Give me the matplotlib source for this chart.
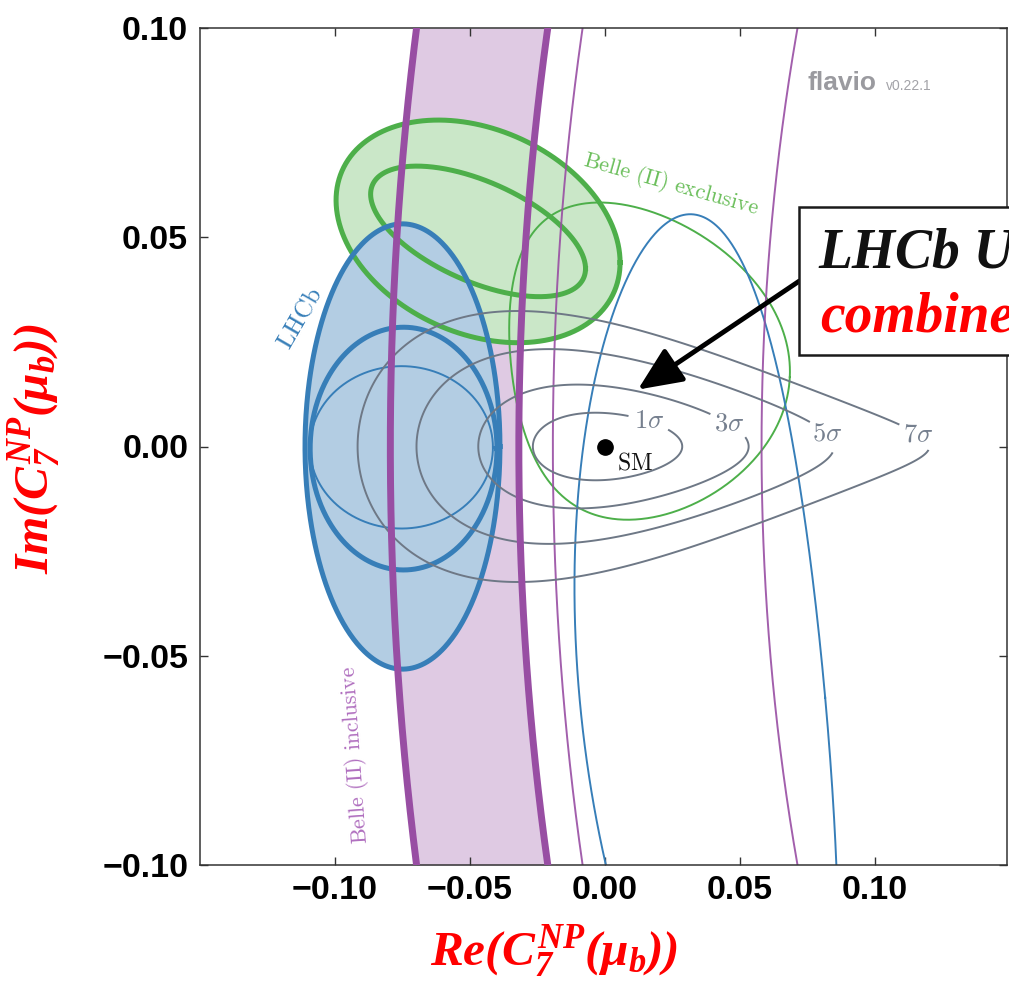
import numpy as np
import matplotlib
matplotlib.use("Agg")
import matplotlib.pyplot as plt
from matplotlib.patches import Rectangle

# ---------------- data ----------------
XLIM = (-0.15, 0.1491)
YLIM = (-0.10, 0.10)
xticks = [-0.10, -0.05, 0.00, 0.05, 0.10]
yticks = [-0.10, -0.05, 0.00, 0.05, 0.10]
xtick_labels = ['\u22120.10', '\u22120.05', '0.00', '0.05', '0.10']
ytick_labels = ['\u22120.10', '\u22120.05', '0.00', '0.05', '0.10']

# ellipse-like contours:
# (centre x, centre y, half-extent x, half-extent y, correlation, bend, bend centre y)
lhcb_now_outer = (-0.0750, 0.0000, 0.0361, 0.0532, 0.0, 0.0, 0.0)
lhcb_now_inner = (-0.0746, -0.0005, 0.0346, 0.0290, 0.0, 0.0, 0.0)
lhcb_future_small = (-0.0754, -0.0002, 0.0339, 0.0194, 0.0, 0.0, 0.0)
lhcb_future_big = (0.0305, -0.0600, 0.0455, 0.1155, 0.0, 0.87, 0.020)
belle_excl_outer = (-0.0470, 0.0514, 0.0526, 0.0266, -0.28, 0.0, 0.0)
belle_excl_inner = (-0.0470, 0.0514, 0.0398, 0.0156, -0.57, 0.0, 0.0)
belle_excl_future = (0.0167, 0.0204, 0.0519, 0.0379, -0.10, -9.4, 0.0204)

# inclusive branching ratio: rings around a common centre
ring_centre = (0.44, 0.0)
incl_now_radii = (0.5195, 0.4719)
incl_future_radii = (0.4593, 0.3820)

# combined future fit (teardrop-shaped likelihood)
comb_wedge_x = 0.20
comb_curv = 0.40
comb_sig_u = 0.0276
comb_sig_v = 0.0080
comb_levels = [1.0, 1.8, 2.75, 3.7]
comb_labels = [r'$1\sigma$', r'$3\sigma$', r'$5\sigma$', r'$7\sigma$']
comb_label_pos = [(0.0167, 0.0069), (0.0474, 0.0069), (0.0804, 0.0017), (0.1148, 0.0017)]

sm_point = (0.0, 0.0)

# ---------------- styling ----------------
W, H, DPI = 1009, 986, 100
BLUE = '#377eb8'
GREEN = '#4daf4a'
PURPLE = '#984ea3'
BLUE_FILL = '#b3cde3'
GREEN_FILL = '#cae7c8'
PURPLE_FILL = '#dfcae3'
GREY = '#6e7886'
plt.rcParams['mathtext.fontset'] = 'custom'
plt.rcParams['mathtext.rm'] = 'Liberation Serif:bold:italic'
plt.rcParams['mathtext.it'] = 'Liberation Serif:bold:italic'
plt.rcParams['mathtext.bf'] = 'Liberation Serif:bold:italic'


def px_x(p):
    return p / W


def px_y(p):
    return 1 - p / H


def ellipse_xy(params, n=600):
    cx, cy, sx, sy, rho, bend, bend_y = params
    t = np.linspace(0, 2 * np.pi, n)
    y = cy + sy * (rho * np.cos(t) + np.sqrt(1 - rho ** 2) * np.sin(t))
    x = cx + sx * np.cos(t) + bend * (y - bend_y) ** 2
    return x, y


def ring_x(radius, y):
    cx, cy = ring_centre
    return cx - np.sqrt(radius ** 2 - (y - cy) ** 2)


fig = plt.figure(figsize=(W / DPI, H / DPI), dpi=DPI)
ax = fig.add_axes([px_x(200), px_y(865), (1007.5 - 200) / W, (865 - 28) / H])
ax.set_xlim(*XLIM)
ax.set_ylim(*YLIM)

# inclusive band (current)
yy = np.linspace(YLIM[0], YLIM[1], 400)
ax.fill_betweenx(yy, ring_x(incl_now_radii[0], yy), ring_x(incl_now_radii[1], yy),
                 color=PURPLE_FILL, lw=0, zorder=1)

# exclusive (current) fill
gx, gy = ellipse_xy(belle_excl_outer)
ax.fill(gx, gy, color=GREEN_FILL, lw=0, zorder=1.1)
# LHCb (current) fill
bx, by = ellipse_xy(lhcb_now_outer)
ax.fill(bx, by, color=BLUE_FILL, lw=0, zorder=1.2)

# thick outlines
for p in (belle_excl_outer, belle_excl_inner):
    x, y = ellipse_xy(p)
    ax.plot(x, y, color=GREEN, lw=3.6, zorder=2)
for p in (lhcb_now_outer, lhcb_now_inner):
    x, y = ellipse_xy(p)
    ax.plot(x, y, color=BLUE, lw=3.6, zorder=2.1)

# thin (future) outlines
x, y = ellipse_xy(belle_excl_future)
ax.plot(x, y, color=GREEN, lw=1.4, zorder=2.4)
for p in (lhcb_future_small, lhcb_future_big):
    x, y = ellipse_xy(p)
    ax.plot(x, y, color=BLUE, lw=1.4, zorder=2.4)
for r in incl_future_radii:
    ax.plot(ring_x(r, yy), yy, color=PURPLE, lw=1.4, zorder=2.4, alpha=0.9)

# combined future fit contours
X, Y = np.meshgrid(np.linspace(XLIM[0], XLIM[1], 700), np.linspace(YLIM[0], YLIM[1], 600))
R = np.hypot(comb_wedge_x - X, Y)
TH = np.arctan2(Y, comb_wedge_x - X)
S = R - comb_wedge_x
U = S + S ** 2 / (2 * comb_curv)
V = comb_wedge_x * TH
D = np.sqrt((U / comb_sig_u) ** 2 + (V / comb_sig_v) ** 2)
cs = ax.contour(X, Y, D, levels=comb_levels, colors=GREY, linewidths=1.4, zorder=2.6)
lbls = ax.clabel(cs, levels=comb_levels, fmt=dict(zip(comb_levels, comb_labels)),
                 manual=comb_label_pos, inline=True, inline_spacing=6, fontsize=19,
                 colors='#76808f')
for t in lbls:
    t.set_rotation(0)
    t.set_math_fontfamily('cm')

# inclusive thick outlines on top
for r in incl_now_radii:
    ax.plot(ring_x(r, yy), yy, color=PURPLE, lw=5.0, zorder=3)

# SM point
ax.plot([sm_point[0]], [sm_point[1]], 'o', color='black', ms=11, zorder=4)
ax.text(0.0044, -0.0055, r'$\mathrm{SM}$', math_fontfamily='cm', fontsize=17,
        ha='left', va='baseline', color='#111111', zorder=4)

# constraint labels
ax.text(-0.113, 0.0308, r'$\mathrm{LHCb}$', math_fontfamily='cm', fontsize=18,
        rotation=60, ha='center', va='center', color=BLUE, rotation_mode='anchor')
ax.text(-0.0926, -0.0736, r'$\mathrm{Belle\ (II)\ inclusive}$', math_fontfamily='cm',
        fontsize=16, rotation=94, ha='center', va='center', color='#b06fbf',
        rotation_mode='anchor')
ax.text(0.0244, 0.0626, r'$\mathrm{Belle\ (II)\ exclusive}$', math_fontfamily='cm',
        fontsize=16, rotation=-15.7, ha='center', va='center', color='#6cbf5c',
        rotation_mode='anchor')

# flavio tag
ax.text(0.0752, 0.0853, 'flavio', fontfamily='Liberation Sans', fontweight='bold',
        fontsize=19, color='#9a9a9f', ha='left', va='baseline')
ax.text(0.1040, 0.0853, 'v0.22.1', fontfamily='Liberation Sans', fontsize=10,
        color='#a3a3a8', ha='left', va='baseline')

# axes styling
ax.set_xticks(xticks)
ax.set_xticklabels(xtick_labels)
ax.set_yticks(yticks)
ax.set_yticklabels(ytick_labels)
ax.tick_params(direction='in', length=6, width=1.0, top=True, right=True,
               colors='#333333', labelcolor='black')
ax.tick_params(axis='x', pad=7)
ax.tick_params(axis='y', pad=8.5)
for lab in ax.get_xticklabels() + ax.get_yticklabels():
    lab.set_fontfamily('Liberation Sans')
    lab.set_fontweight('bold')
    lab.set_fontsize(24.5)
for sp in ax.spines.values():
    sp.set_color('#333333')
    sp.set_linewidth(1.1)

# axis titles
fig.text(px_x(554), px_y(952), r'$Re(C_7^{NP}(\mu_b))$', math_fontfamily='custom',
         fontsize=35.5, color='red', ha='center', va='center')
fig.text(px_x(35), px_y(448), r'$Im(C_7^{NP}(\mu_b))$', math_fontfamily='custom',
         fontsize=35.5, color='red', ha='center', va='center', rotation=90)

# annotation box and arrow
box = Rectangle((px_x(799), px_y(355)), 0.5, (355 - 207) / H, transform=fig.transFigure,
                facecolor='white', edgecolor='#1a1a1a', lw=1.8, zorder=10)
fig.add_artist(box)
fig.text(px_x(818), px_y(268), 'LHCb Upgrade + Belle II', fontfamily='Liberation Serif',
         fontweight='bold', fontstyle='italic', fontsize=40, color='#111111',
         ha='left', va='baseline', zorder=11)
fig.text(px_x(820), px_y(332), 'combined', fontfamily='Liberation Serif',
         fontweight='bold', fontstyle='italic', fontsize=40, color='red',
         ha='left', va='baseline', zorder=11)
ax.annotate('', xy=(0.0122, 0.0136), xytext=(0.0719, 0.0395),
            arrowprops=dict(arrowstyle='-|>,head_length=0.9,head_width=0.4',
                            lw=3.5, color='black', mutation_scale=30, shrinkA=0, shrinkB=0),
            zorder=9, annotation_clip=False)

fig.savefig('out.png', dpi=DPI)
